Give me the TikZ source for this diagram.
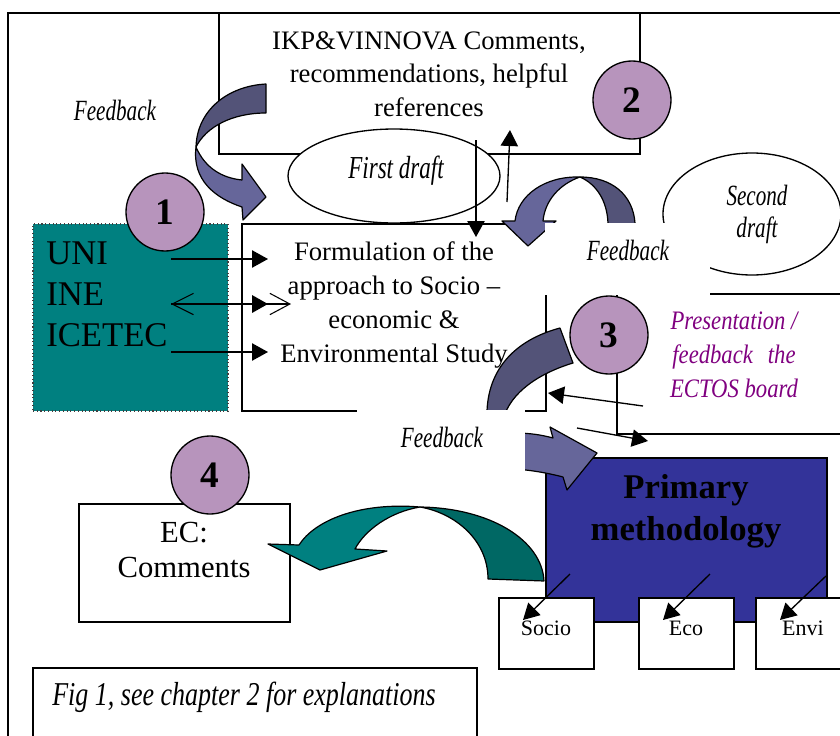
\documentclass[tikz,border=0pt]{standalone}
\usepackage{fontspec}
\setmainfont{Liberation Serif}
\newfontfamily\condfont[FakeStretch=0.72]{Liberation Serif}
\newfontfamily\condfontb[FakeStretch=0.85]{Liberation Serif}
\newfontfamily\condfontc[FakeStretch=0.78]{Liberation Serif}
\usetikzlibrary{arrows.meta,shapes.geometric}
\definecolor{numfill}{HTML}{B794BC}
\definecolor{tealbox}{HTML}{008080}
\definecolor{primbox}{HTML}{333399}
\definecolor{arrdark}{HTML}{535378}
\definecolor{arrlight}{HTML}{66669A}
\definecolor{teallight}{HTML}{008080}
\definecolor{tealdark}{HTML}{006864}
\definecolor{presfg}{HTML}{800080}
\begin{document}
\begin{tikzpicture}[x=0.75pt,y=-0.75pt,
  boxnode/.style={draw=black,line width=1.1pt,rectangle,inner sep=0pt,outer sep=0pt,fill=white},
  numcircle/.style={circle,draw=black,line width=1pt,fill=numfill,minimum size=58.5pt,inner sep=0pt,font=\fontsize{28}{30}\selectfont\bfseries},
  thinarrow/.style={draw=black,line width=1pt,-{Triangle[length=12pt,width=13pt]}},
  bigarrow/.style={draw=black,line width=0.9pt,line join=round},
  fbtext/.style={font=\fontsize{22}{24}\selectfont\condfont\itshape,inner sep=0pt},
  labelbox/.style={rectangle,draw=none,fill=white,inner sep=0pt,outer sep=0pt}
]
\fill[white] (0,0) rectangle (840,736);
\useasboundingbox (0,0) rectangle (840,736);

% outer frame
\coordinate (frbl) at (8,760);
\coordinate (frtl) at (8,13);
\coordinate (frtr) at (860,13);
\draw[line width=1.6pt] (frbl) -- (frtl) -- (frtr);

% IKP box
\node[boxnode,minimum width=315.75pt,minimum height=105.75pt] (ikp) at (429.5,83.5) {};
\node[font=\fontsize{20}{25}\selectfont,align=center,inner sep=0pt] (ikptext) at (429,74)
  {IKP\&VINNOVA Comments,\\recommendations, helpful\\references};
\node[numcircle] (n2) at (632,100) {2};

% first draft
\node[ellipse,draw=black,line width=1pt,fill=white,minimum width=159pt,minimum height=70.5pt,inner sep=0pt] (fd) at (394,176) {};
\node[font=\fontsize{24}{26}\selectfont\condfont\itshape,anchor=base,inner sep=0pt] (fdtext) at (396,178) {First draft};

% formulation box
\node[boxnode,minimum width=228pt,minimum height=140.25pt] (form) at (394,317.5) {};
\node[font=\fontsize{20}{25.5}\selectfont,align=center,inner sep=0pt] (formtext) at (394,305)
  {Formulation of the\\approach to Socio --\\economic \&\\Environmental Study};

% UNI box
\node[rectangle,draw=black!75,dotted,line width=0.8pt,fill=tealbox,minimum width=146.25pt,minimum height=140.25pt,inner sep=0pt] (uni) at (130.5,317.5) {};
\node[anchor=north west,inner sep=0pt,font=\fontsize{26}{30.4}\selectfont,align=left] (unitext) at (46,242) {UNI\\INE\\ICETEC};
\node[numcircle] (n1) at (165,212) {1};

% arrows UNI -> formulation
\coordinate (ua1) at (171,259); \coordinate (fa1) at (268,259);
\coordinate (ua2) at (171,304); \coordinate (fa2) at (268,304); \coordinate (fb2) at (291,304);
\coordinate (ua3) at (171,352); \coordinate (fa3) at (268,352);
\draw[thinarrow] (ua1) -- (fa1);
\draw[line width=0.8pt,{Straight Barb[length=16pt,width=16pt]}-{Straight Barb[length=15pt,width=16pt]}] (ua2) -- (fb2);
\draw[line width=1.8pt,-{Triangle[length=12pt,width=13pt]}] (ua2) -- (fa2);
\draw[thinarrow] (ua3) -- (fa3);

% feedback arrow 1
\filldraw[bigarrow,fill=arrdark] (266,84) .. controls (228,86) and (197,110) .. (196,147) .. controls (206,127) and (232,113) .. (266,113) -- cycle;
\filldraw[bigarrow,fill=arrlight] (196,147) .. controls (205,168) and (222,178) .. (242,180) -- (242,164) -- (266,197) -- (243,220) -- (242,207) .. controls (215,198) and (192,180) .. (196,147) -- cycle;
\node[fbtext,anchor=base] (fb1) at (115,120) {Feedback};

% IKP <-> formulation thin arrows
\coordinate (ikpd) at (476,140); \coordinate (formd) at (476,237);
\coordinate (formu) at (507,202); \coordinate (ikpu) at (510,130);
\draw[thinarrow] (ikpd) -- (formd);
\draw[thinarrow] (formu) -- (ikpu);

% second draft
\node[ellipse,draw=black,line width=1pt,fill=white,minimum width=133.5pt,minimum height=91.5pt,inner sep=0pt] (sd) at (752,214) {};
\node[font=\fontsize{22}{24}\selectfont\condfont\itshape,align=center,inner sep=0pt] (sdtext) at (757,214) {Second\\draft};

% feedback arrow 2
\filldraw[bigarrow,fill=arrdark] (635,232) -- (635,223) .. controls (633,195) and (612,177) .. (580,177) .. controls (596,184) and (607,200) .. (608,223) -- (608,232) -- cycle;
\filldraw[bigarrow,fill=arrlight] (580,177) .. controls (545,176) and (518,195) .. (515,221) -- (502,221) -- (528,246) -- (556,221) -- (543,221) .. controls (545,200) and (560,184) .. (580,177) -- cycle;

% presentation box
\node[rectangle,draw=black,line width=1.1pt,inner sep=0pt,minimum width=182.25pt,minimum height=105pt] (pres) at (738.5,364) {};

% arrow 3 (back part)
\filldraw[bigarrow,fill=arrdark] (560,328) .. controls (515,340) and (485,370) .. (487,420) -- (503,420) .. controls (510,392) and (540,373) .. (573,363) -- cycle;

% primary methodology
\node[boxnode,fill=primbox,minimum width=210.75pt,minimum height=123pt] (prim) at (686.5,540) {};
\node[font=\fontsize{26}{31.5}\selectfont\bfseries,align=center,inner sep=0pt] (primtext) at (686,511) {Primary\\methodology};

% arrow 3 (front part)
\filldraw[bigarrow,fill=arrlight] (515,433) .. controls (530,433) and (542,435) .. (553,438) -- (550,427) -- (597,453) -- (567,490) -- (563,477) .. controls (548,473) and (530,470) .. (515,469) -- cycle;

% white label boxes
\node[labelbox,minimum width=123.75pt,minimum height=54pt] (lb1) at (627.5,259) {};
\node[fbtext,anchor=base] (fb2) at (628,260) {Feedback};
\node[labelbox,minimum width=126pt,minimum height=56.25pt] (lb2) at (441,447.5) {};
\node[fbtext,anchor=base] (fb3) at (442,447) {Feedback};

% circle 3 and presentation text
\node[numcircle] (n3) at (609,335) {3};
\node[font=\fontsize{20}{25.5}\selectfont\condfontb\itshape,text=presfg,align=center,inner sep=0pt] (prestext) at (734,355)
  {Presentation /\\feedback\hspace{7pt} the\\ECTOS board};
\coordinate (pa1) at (643,406); \coordinate (fa4) at (548,393);
\coordinate (pa2) at (577,428); \coordinate (pra) at (648,441);
\draw[thinarrow] (pa1) -- (fa4);
\draw[thinarrow] (pa2) -- (pra);

% sub boxes
\node[boxnode,minimum width=71.25pt,minimum height=53.25pt] (socio) at (546.5,633.5) {};
\node[boxnode,minimum width=71.25pt,minimum height=53.25pt] (eco) at (686.5,633.5) {};
\node[boxnode,minimum width=71.25pt,minimum height=53.25pt] (envi) at (803.5,633.5) {};
\node[font=\fontsize{16.5}{20}\selectfont,anchor=base,inner sep=0pt] (sociotext) at (546,635) {Socio};
\node[font=\fontsize{16.5}{20}\selectfont,anchor=base,inner sep=0pt] (ecotext) at (686,635) {Eco};
\node[font=\fontsize{16.5}{20}\selectfont,anchor=base,inner sep=0pt] (envitext) at (803,635) {Envi};
\coordinate (ps1) at (570,574); \coordinate (st1) at (523,620);
\coordinate (ps2) at (710,574); \coordinate (st2) at (663,620);
\coordinate (ps3) at (826,576); \coordinate (st3) at (780,620);
\draw[thinarrow] (ps1) -- (st1);
\draw[thinarrow] (ps2) -- (st2);
\draw[thinarrow] (ps3) -- (st3);

% EC box
\node[boxnode,minimum width=158.25pt,minimum height=88.5pt] (ec) at (184.5,563) {};
\node[font=\fontsize{23}{26.5}\selectfont,align=center,inner sep=0pt] (ectext) at (184,550) {EC:\\Comments};
\node[numcircle] (n4) at (210,475) {4};

% teal arrow
\filldraw[bigarrow,fill=tealdark] (544,581) .. controls (542,540) and (490,508) .. (420,507) .. controls (455,513) and (488,540) .. (488,579) -- cycle;
\filldraw[bigarrow,fill=teallight] (420,507) .. controls (360,502) and (315,520) .. (299,545) -- (268,544) -- (320,570) -- (387,551) -- (355,549) .. controls (365,530) and (390,512) .. (420,507) -- cycle;

% caption box
\node[boxnode,minimum width=333pt,minimum height=69pt] (fig) at (255,714) {};
\node[font=\fontsize{25}{28}\selectfont\condfontc\itshape,anchor=base,inner sep=0pt] (figtext) at (244,705) {Fig 1, see chapter 2 for explanations};
\end{tikzpicture}
\end{document}
